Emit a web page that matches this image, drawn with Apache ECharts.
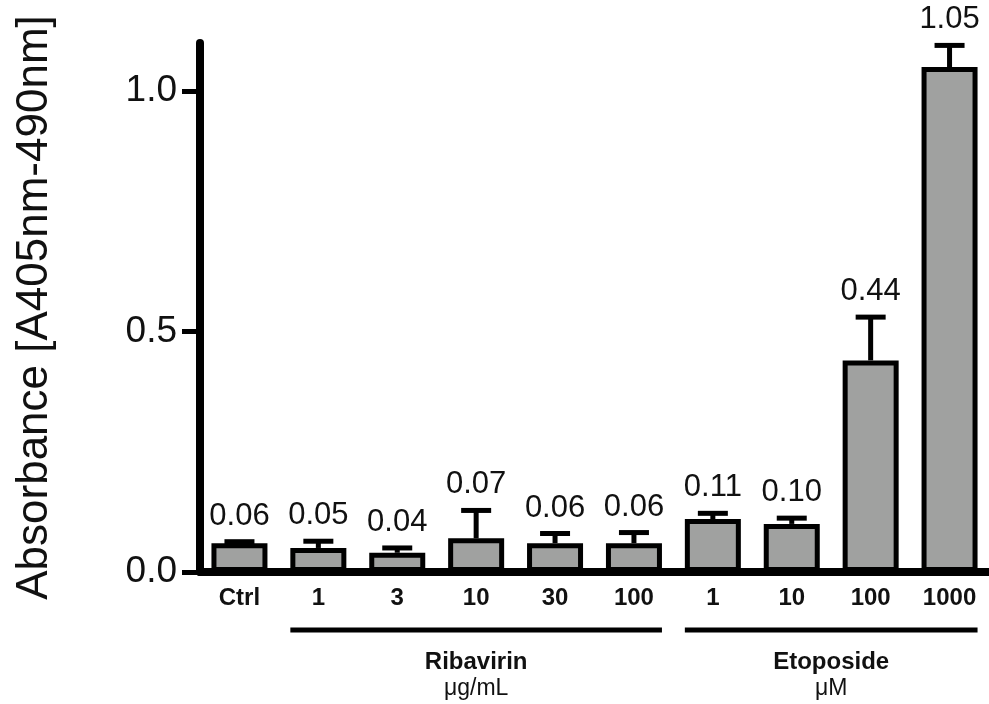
<!DOCTYPE html>
<html>
<head>
<meta charset="utf-8">
<script src="https://cdn.jsdelivr.net/npm/echarts@6/dist/echarts.min.js"></script>
<style>
html,body{margin:0;padding:0;background:#fff;}
#chart{width:989px;height:704px;}
</style>
</head>
<body>
<div id="chart"></div>
<script>
// ---- data ----
var categories = ['Ctrl', '1', '3', '10', '30', '100', '1', '10', '100', '1000'];
var means      = [0.06, 0.05, 0.04, 0.07, 0.06, 0.06, 0.11, 0.10, 0.44, 1.05];
var errors     = [0.003, 0.014, 0.010, 0.058, 0.020, 0.022, 0.012, 0.012, 0.090, 0.045];
var yTicks     = [0, 0.5, 1.0];
var groupNames = ['Ribavirin', 'Etoposide'];
var groupUnits = ['\u03bcg/mL', '\u03bcM'];
var groupStart = [1, 6];
var groupEnd   = [5, 9];

var FONT = "'Liberation Sans', Arial, Helvetica, sans-serif";
var BAR_W = 56, BORDER = 5;

var chart = echarts.init(document.getElementById('chart'));

var errData = categories.map(function (c, i) { return [i, means[i], errors[i]]; });

chart.setOption({
  animation: false,
  backgroundColor: '#fff',
  grid: { left: 200, top: 43, width: 793, bottom: 132 },
  xAxis: {
    type: 'category',
    data: categories,
    axisLine: { lineStyle: { color: '#000', width: 8 } },
    axisTick: { show: false },
    axisLabel: { color: '#111', fontFamily: FONT, fontSize: 24, fontWeight: 'bold', margin: 14 }
  },
  yAxis: {
    type: 'value',
    min: 0, max: 1.1, interval: 0.5,
    name: 'Absorbance [A405nm-490nm]',
    nameLocation: 'middle',
    nameGap: 143,
    nameTextStyle: { color: '#111', fontFamily: FONT, fontSize: 44 },
    splitLine: { show: false },
    axisLine: { show: true, lineStyle: { color: '#000', width: 8 } },
    axisTick: { show: true, length: 18, lineStyle: { color: '#000', width: 5 }, customValues: yTicks },
    axisLabel: {
      color: '#111', fontFamily: FONT, fontSize: 37, margin: 23,
      customValues: yTicks,
      formatter: function (v) { return v.toFixed(1); }
    }
  },
  series: [
    {
      type: 'bar',
      data: means,
      barWidth: BAR_W,
      itemStyle: { color: '#a0a1a0', borderColor: '#000', borderWidth: BORDER },
      z: 2
    },
    {
      type: 'custom',
      data: errData,
      z: 3,
      renderItem: function (params, api) {
        var i = api.value(0), m = api.value(1), e = api.value(2);
        var base = api.coord([i, m]);
        var top = api.coord([i, m + e]);
        return {
          type: 'group',
          children: [
            { type: 'line', shape: { x1: base[0], y1: base[1], x2: top[0], y2: top[1] },
              style: { stroke: '#000', lineWidth: 5 } },
            { type: 'line', shape: { x1: top[0] - 15, y1: top[1], x2: top[0] + 15, y2: top[1] },
              style: { stroke: '#000', lineWidth: 5 } },
            { type: 'text', x: top[0], y: top[1] - 10,
              style: { text: m.toFixed(2), fill: '#111', font: '31px ' + FONT,
                       textAlign: 'center', textVerticalAlign: 'bottom' } }
          ]
        };
      }
    }
  ]
});

// group underline and labels, placed from the category axis
var y0 = chart.convertToPixel({ yAxisIndex: 0 }, 0);
var elements = [];
for (var g = 0; g < groupNames.length; g++) {
  var xs = chart.convertToPixel({ xAxisIndex: 0 }, groupStart[g]) - BAR_W / 2;
  var xe = chart.convertToPixel({ xAxisIndex: 0 }, groupEnd[g]) + BAR_W / 2;
  var xc = (xs + xe) / 2;
  elements.push({ type: 'line', shape: { x1: xs, y1: y0 + 58, x2: xe, y2: y0 + 58 },
                  style: { stroke: '#000', lineWidth: 5 } });
  elements.push({ type: 'text', x: xc, y: y0 + 90,
                  style: { text: groupNames[g], fill: '#111', font: 'bold 24px ' + FONT,
                           textAlign: 'center', textVerticalAlign: 'middle' } });
  elements.push({ type: 'text', x: xc, y: y0 + 117,
                  style: { text: groupUnits[g], fill: '#111', font: '23px ' + FONT,
                           textAlign: 'center', textVerticalAlign: 'middle' } });
}
chart.setOption({ graphic: { elements: elements } });
</script>
</body>
</html>
